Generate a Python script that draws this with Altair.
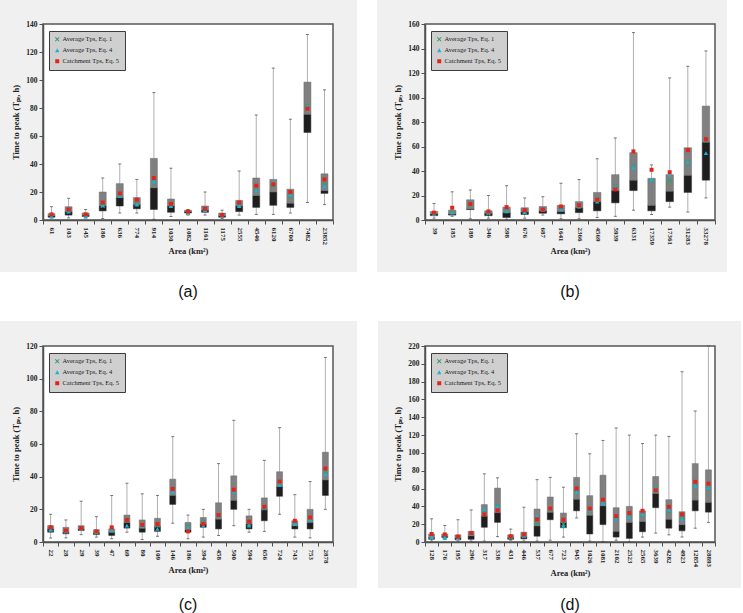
import altair as alt
import pandas as pd

SERIES = ["Average Tps, Eq. 1", "Average Tps, Eq. 4", "Catchment Tps, Eq. 5"]
SERIES_COLORS = ["#2f9e72", "#22aed6", "#e3241b"]
X_PATH = ("M-1,-0.7L-0.7,-1L0,-0.3L0.7,-1L1,-0.7L0.3,0L1,0.7L0.7,1L0,0.3"
          "L-0.7,1L-1,0.7L-0.3,0Z")
SERIES_SHAPES = [X_PATH, "triangle-up", "square"]
SERIES_SIZES = [22, 16, 30]

# (a)
A_AREA = ["61", "103", "145", "180", "636", "774", "914", "1030", "1082", "1161",
          "1175", "2555", "4546", "6120", "6700", "7482", "23852"]
A_MIN = [1.5, 1.5, 1.5, 1, 5, 5, 0.5, 2.5, 3.5, 3.5, 1, 3.5, 4, 4, 5, 12.5, 11]
A_Q1 = [2, 3.5, 2.5, 6.5, 10, 8, 7.5, 5.5, 5, 5.5, 2, 6, 9, 10.5, 9, 62.5, 19]
A_MED = [3, 6, 3.5, 10, 16, 11, 23, 10, 6, 7, 3, 10, 17.5, 20, 12, 75.5, 21]
A_Q3 = [4.5, 9.5, 5, 20, 26, 16, 44, 15, 7, 10, 5, 14, 30, 29, 22, 98.5, 33]
A_MAX = [9.5, 15.5, 7.5, 30, 40, 29, 91, 37, 7.5, 20, 7, 35, 75, 108.5, 72, 132.5, 93]
A_EQ1 = [3, 6.5, 3.5, 10, 17.5, 11.5, 27, 10.5, 5, 7.5, 3, 10.5, 21, 24.5, 17, 81.5, 26]
A_EQ4 = [2.5, 6, 2.5, 10.5, 17, 11, 27.5, 10, 5.5, 7, 3, 10, 21, 27, 18, 81, 24]
A_EQ5 = [4, 7.5, 4, 12.5, 19, 14.5, 30, 11.5, 6, 8, 3.5, 12.5, 24.5, 25.5, 20, 79.5, 29]

# (b)
B_AREA = ["39", "185", "189", "346", "598", "676", "687", "1641", "2366", "4569",
          "5939", "6331", "17359", "17361", "31283", "33278"]
B_MIN = [1.5, 3, 1, 1.5, 0.5, 1.5, 4, 1, 1, 2, 3, 8, 4.5, 10.5, 6.5, 18]
B_Q1 = [3.5, 4, 8.5, 3.5, 2, 4.5, 5.5, 5, 6, 7.5, 14, 24, 7.5, 15, 22.5, 32.5]
B_MED = [5, 5, 9, 5.5, 6, 6.5, 7.5, 7, 10, 15, 24, 32.5, 12, 23.5, 36.5, 63.5]
B_Q3 = [7, 8, 16.5, 7.5, 10.5, 10, 11, 12, 15, 22.5, 37, 55, 34, 37, 59, 93]
B_MAX = [13.5, 23, 24.5, 20, 28, 18, 19, 30, 33, 50, 67, 153, 45, 116, 125.5, 138]
B_EQ1 = [5, 6.5, 12, 5.5, 7.5, 6.5, 8.5, 9, 11.5, 17, 28, 44, 32, 32, 46, 65]
B_EQ4 = [5, 6, 12.5, 6, 7, 6.5, 8, 8.5, 11, 15, 27, 43, 33, 37, 47, 54.5]
B_EQ5 = [6, 10, 13, 7, 10.5, 8, 8.5, 11, 12, 16.5, 25, 56, 41, 39, 57, 66]

# (c)
C_AREA = ["22", "28", "29", "39", "47", "69", "80", "109", "146", "186", "394",
          "458", "500", "594", "656", "724", "743", "753", "2878"]
C_MIN = [2.5, 2.5, 4.5, 3, 2, 6, 1.5, 3.5, 11.5, 2, 3, 4, 10, 6, 6.5, 17, 3, 2.5, 20]
C_Q1 = [6, 5, 7, 4.5, 4, 8.5, 6, 6.5, 23, 6, 9, 8, 20, 8, 13, 28, 8, 8, 28.5]
C_MED = [8, 6, 8, 5.5, 6, 12, 8.5, 9.5, 28.5, 7.5, 11, 14, 25.5, 11, 20, 34, 10, 12, 38]
C_Q3 = [10, 9, 10, 7.5, 8, 16.5, 13.5, 14.5, 38.5, 12, 15, 24, 40.5, 16, 27, 43, 13, 20, 55]
C_MAX = [17, 13.5, 25, 15.5, 28.5, 36, 29.5, 28.5, 64.5, 16.5, 20, 48, 74.5, 20, 50, 70, 29, 37, 113]
C_EQ1 = [8, 6.5, 8.5, 5.5, 7.5, 13, 10, 10, 32, 9.5, 12, 16, 31, 11, 20.5, 36, 11, 14, 43]
C_EQ4 = [7.5, 6.5, 8, 6, 7, 10, 9.5, 8, 30.5, 9, 10, 16, 31, 10, 21, 35, 11, 13.5, 41.5]
C_EQ5 = [9, 7, 8.5, 6.5, 9, 13.5, 10.5, 11, 32.5, 6.5, 11, 16.5, 32, 12.5, 21.5, 37, 13, 15, 45]

# (d)
D_AREA = ["128", "176", "195", "296", "317", "338", "431", "446", "537", "677", "723",
          "945", "1026", "1081", "2102", "2523", "2565", "3639", "4282", "4923",
          "12854", "28893"]
D_MIN = [1, 3, 1, 1, 1, 6, 2, 1, 1, 2, 5.5, 27, 1, 0.5, 2, 0.5, 5.5, 10, 8, 5.5, 15.5, 22]
D_Q1 = [3, 5, 2.5, 3, 16.5, 22, 3, 3.5, 6.5, 25, 16, 35, 9, 19.5, 5.5, 4, 11.5, 38.5,
        15.5, 12.5, 35, 33.5]
D_MED = [5, 6.5, 4.5, 7, 29, 33, 5, 6, 18, 33.5, 22, 48, 30, 40.5, 12, 22, 23, 54.5,
         25.5, 19.5, 47, 44.5]
D_Q3 = [9, 9, 8, 12, 42, 60.5, 8, 11, 37, 50.5, 32.5, 72.5, 52, 75, 38.5, 40, 35, 73.5,
        47.5, 34, 88, 81]
D_MAX = [26, 18.5, 25, 36, 76.5, 72, 14.5, 39, 70, 72.5, 61.5, 121.5, 99, 114, 128, 120,
         110.5, 120, 118.5, 191, 147, 220]
D_EQ1 = [6, 6, 5, 9, 35, 40.5, 5.5, 7, 21, 37, 20, 56, 35, 45, 26, 28, 30, 60, 34, 28,
         62.5, 60]
D_EQ4 = [5.5, 4.5, 4, 9, 37, 40, 6, 7, 29, 37, 18, 56, 36, 43.5, 26, 28, 31, 60.5, 36,
         26, 63, 61]
D_EQ5 = [9, 8.5, 6, 10, 31, 35.5, 6.5, 8.5, 25.5, 37.5, 25, 60, 37.5, 47.5, 29, 32.5,
         35, 58, 39.5, 31, 67.5, 65.5]

W, H = 290, 196
SERIF = "Liberation Serif"


def panel(letter, areas, lo, q1, med, q3, hi, eq1, eq4, eq5, ymax, box, bg, label_y):
    stats = pd.DataFrame({"area": areas, "lo": lo, "q1": q1, "med": med,
                          "q3": q3, "hi": hi})
    n = len(areas)
    pts = pd.DataFrame({
        "area": areas * 3,
        "series": [SERIES[0]] * n + [SERIES[1]] * n + [SERIES[2]] * n,
        "value": list(eq1) + list(eq4) + list(eq5),
    })
    one = pd.DataFrame({"k": [0]})

    x = alt.X("area:N", sort=areas, title="Area (km²)",
              scale=alt.Scale(paddingInner=0, paddingOuter=0),
              axis=alt.Axis(labelAngle=90, tickBand="extent", zindex=1,
                            labelOverlap=False,
                            labelFont=SERIF, labelFontWeight="bold", labelFontSize=7,
                            labelColor="#222", titleFont=SERIF, titleFontWeight="bold",
                            titleFontSize=8.5, titleColor="#222", titlePadding=2,
                            domainColor="#505050", domainWidth=1.5,
                            tickColor="#505050", tickSize=4, labelPadding=3))
    yscale = alt.Scale(domain=[0, ymax], nice=False)
    ticks = list(range(0, ymax + 1, 20))
    yaxis = alt.Axis(values=ticks, tickCount=len(ticks), zindex=1,
                     labelOverlap=False,
                     title="Time to peak (Tₚₑ, h)", grid=False,
                     labelFont=SERIF, labelFontWeight="bold", labelFontSize=7.5,
                     labelColor="#222", titleFont=SERIF, titleFontWeight="bold",
                     titleFontSize=8.5, titleColor="#222", titlePadding=5,
                     domainColor="#505050", domainWidth=1.5,
                     tickColor="#505050", tickSize=4, labelPadding=2)

    def yenc(field):
        return alt.Y(field, scale=yscale, axis=yaxis)

    l, r, t, b = bg
    backdrop = alt.Chart(one).mark_rect(color="#f0f0f0").encode(
        x=alt.value(l), x2=alt.value(W + r), y=alt.value(t), y2=alt.value(H + b))
    frame = alt.Chart(one).mark_rect(fill="white", stroke="#555555",
                                     strokeWidth=1.5).encode(
        x=alt.value(0), x2=alt.value(W), y=alt.value(0), y2=alt.value(H))
    tag = alt.Chart(one).mark_text(font="Liberation Sans", fontSize=16,
                                   color="#111").encode(
        x=alt.value(W / 2), y=alt.value(label_y), text=alt.value(f"({letter})"))

    base = alt.Chart(stats)
    whisker = base.mark_rule(color="#b0b0b0", strokeWidth=1).encode(
        x=x, y=yenc("lo:Q"), y2="hi:Q")
    cap_lo = base.mark_tick(color="#404040", thickness=1, size=3).encode(
        x=x, y=yenc("lo:Q"))
    cap_hi = base.mark_tick(color="#404040", thickness=1, size=3).encode(
        x=x, y=yenc("hi:Q"))
    lower = base.mark_bar(size=box, color="#1e1e1e", stroke="#333333",
                          strokeWidth=0.5).encode(
        x=x, y=yenc("q1:Q"), y2="med:Q")
    upper = base.mark_bar(size=box, color="#808080", stroke="#6a6a6a",
                          strokeWidth=0.5).encode(
        x=x, y=yenc("med:Q"), y2="q3:Q")

    leg = alt.Legend(title=None, orient="none", legendX=6, legendY=7,
                     fillColor="#cfcfcf", strokeColor="#3c3c3c", padding=5,
                     rowPadding=4, labelFont=SERIF, labelFontSize=6.5,
                     labelColor="#1a1a1a", labelOffset=2, symbolStrokeWidth=0)
    points = alt.Chart(pts).mark_point(filled=True, opacity=1).encode(
        x=x, y=yenc("value:Q"),
        color=alt.Color("series:N", scale=alt.Scale(domain=SERIES, range=SERIES_COLORS),
                        legend=leg),
        shape=alt.Shape("series:N", scale=alt.Scale(domain=SERIES, range=SERIES_SHAPES),
                        legend=leg),
        size=alt.Size("series:N", scale=alt.Scale(domain=SERIES, range=SERIES_SIZES),
                      legend=leg),
    )

    return alt.layer(backdrop, frame, tag, whisker, cap_lo, cap_hi, lower, upper,
                     points).properties(width=W, height=H)


pa = panel("a", A_AREA, A_MIN, A_Q1, A_MED, A_Q3, A_MAX, A_EQ1, A_EQ4, A_EQ5,
           140, 7, (-43, 24, -24, 52), 268)
pb = panel("b", B_AREA, B_MIN, B_Q1, B_MED, B_Q3, B_MAX, B_EQ1, B_EQ4, B_EQ5,
           160, 7.5, (-48, 12, -24, 52), 268)
pc = panel("c", C_AREA, C_MIN, C_Q1, C_MED, C_Q3, C_MAX, C_EQ1, C_EQ4, C_EQ5,
           120, 6, (-43, 24, -25, 46), 259)
pd_ = panel("d", D_AREA, D_MIN, D_Q1, D_MED, D_Q3, D_MAX, D_EQ1, D_EQ4, D_EQ5,
            220, 6, (-47, 26, -25, 46), 259)

chart = alt.concat(
    pa, pb, pc, pd_, columns=2, spacing={"row": 126, "column": 92}, bounds="flush"
).resolve_scale(
    x="independent", y="independent", color="independent", shape="independent",
    size="independent"
).resolve_legend(
    color="independent", shape="independent", size="independent"
).configure_view(stroke=None).properties(background="white", padding=0)

chart.save("out.html", embed_options={"renderer": "svg", "actions": False})
